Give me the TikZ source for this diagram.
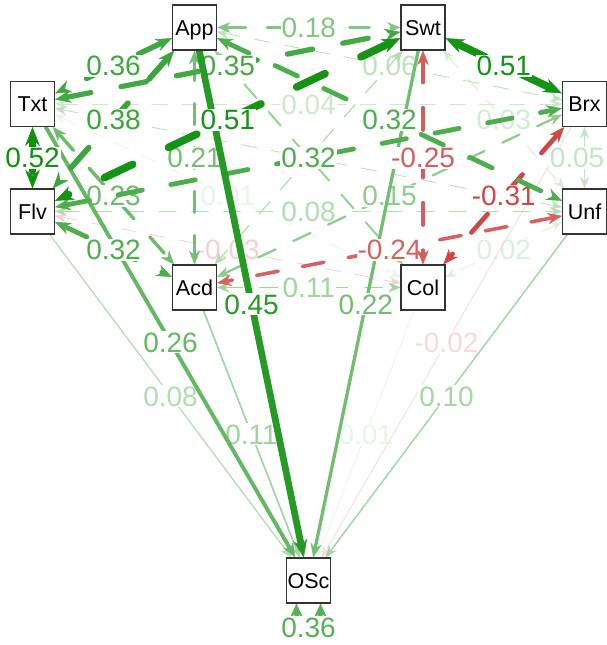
\documentclass[tikz,border=0pt]{standalone}
\usepackage{fontspec}
\setmainfont{Liberation Sans}
\usetikzlibrary{arrows.meta,calc}
\definecolor{gbase}{RGB}{15,145,15}
\definecolor{rbase}{RGB}{191,0,0}
\pgfdeclarelayer{edges}
\pgfsetlayers{edges,main}
\newcommand\setedge[2]{%
  \pgfmathsetmacro\ew{max(0.8,15*#1)}%
  \pgfmathtruncatemacro\ep{min(100,100*(#1/0.52)^0.6)}%
  \colorlet{ec}{#2!\ep!white}%
  \pgfmathsetmacro\al{10.5+16*#1}%
  \pgfmathsetmacro\aw{8.5+12*#1}%
  \pgfmathsetmacro\per{25+6*\ew}%
  \pgfmathsetmacro\don{max(1,0.55*\per-\ew)}%
  \pgfmathsetmacro\doff{0.45*\per+\ew}%
}
\newcommand\edgelabel[3]{%
  \if\relax\detokenize{#3}\relax\else
  \node[lbl,text=ec] at ($(#1)!0.5!(#2)$) {#3};\fi}
\newcommand\corr[5]{%
  \setedge{#3}{#4}%
  \draw[ec, line width=\ew pt, line cap=round, dash pattern=on \don pt off \doff pt,
    {Stealth[length=\al pt,width=\aw pt,line width=0.5pt]}-{Stealth[length=\al pt,width=\aw pt,line width=0.5pt]}] (#1) -- (#2);%
  \edgelabel{#1}{#2}{#5}}
\newcommand\regr[5]{%
  \setedge{#3}{#4}%
  \draw[ec, line width=\ew pt, line cap=round,
    -{Stealth[length=\al pt,width=\aw pt,line width=0.5pt]}] (#1) -- (#2);%
  \edgelabel{#1}{#2}{#5}}
\tikzset{
  box/.style={draw=black!80, fill=white, line width=1.1pt, minimum width=44pt,
    minimum height=45pt, inner sep=0pt, text height=15.4pt, text depth=0pt,
    font=\fontsize{21.5}{24}\selectfont},
  lbl/.style={fill=white, inner sep=1pt, text height=20pt, text depth=0pt,
    font=\fontsize{28}{30}\selectfont}
}
\begin{document}
\begin{tikzpicture}[x=1pt,y=-1pt]
\useasboundingbox (0,0) rectangle (606,645);
\node[box] (App) at (194.5,27.5) {App};
\node[box] (Swt) at (423,27.5) {Swt};
\node[box] (Txt) at (32.5,104) {Txt};
\node[box] (Brx) at (584.5,104) {Brx};
\node[box] (Flv) at (32.5,211.5) {Flv};
\node[box] (Unf) at (584.5,211.5) {Unf};
\node[box] (Acd) at (194.5,287.5) {Acd};
\node[box] (Col) at (423,287.5) {Col};
\node[box] (OSc) at (308.5,580.5) {OSc};
\coordinate (rl) at ([xshift=-12pt]OSc.south);
\coordinate (rr) at ([xshift=12pt]OSc.south);
\coordinate (rlab) at (308.5,627);
\coordinate (bulab) at (577,157.75);
\begin{pgfonlayer}{edges}
\corr{Txt}{Col}{0.01}{gbase}{0.01}
\regr{Col}{OSc}{0.01}{gbase}{0.01}
\corr{Unf}{Col}{0.02}{gbase}{0.02}
\regr{Brx}{OSc}{0.02}{rbase}{-0.02}
\corr{Swt}{Unf}{0.03}{gbase}{0.03}
\corr{Flv}{Col}{0.03}{rbase}{-0.03}
\corr{Txt}{Brx}{0.04}{gbase}{0.04}
\corr{Brx}{Unf}{0.05}{gbase}{}
\node[lbl,text=ec] (bul) at (bulab) {0.05};
\corr{App}{Brx}{0.06}{gbase}{0.06}
\corr{Txt}{Unf}{0.06}{gbase}{}
\corr{Swt}{Acd}{0.08}{gbase}{}
\corr{Flv}{Unf}{0.08}{gbase}{0.08}
\regr{Flv}{OSc}{0.08}{gbase}{0.08}
\regr{Unf}{OSc}{0.10}{gbase}{0.10}
\corr{Acd}{Col}{0.11}{gbase}{0.11}
\regr{Acd}{OSc}{0.11}{gbase}{0.11}
\corr{App}{Col}{0.13}{gbase}{}
\corr{Brx}{Acd}{0.15}{gbase}{0.15}
\corr{App}{Swt}{0.18}{gbase}{0.18}
\corr{App}{Acd}{0.21}{gbase}{0.21}
\regr{Swt}{OSc}{0.22}{gbase}{0.22}
\corr{Txt}{Acd}{0.23}{gbase}{0.23}
\corr{Unf}{Acd}{0.24}{rbase}{-0.24}
\corr{Swt}{Col}{0.25}{rbase}{-0.25}
\regr{Txt}{OSc}{0.26}{gbase}{0.26}
\corr{Brx}{Col}{0.31}{rbase}{-0.31}
\corr{App}{Unf}{0.32}{gbase}{0.32}
\corr{Flv}{Acd}{0.32}{gbase}{0.32}
\corr{Flv}{Brx}{0.32}{gbase}{0.32}
\corr{Txt}{Swt}{0.35}{gbase}{0.35}
\corr{App}{Txt}{0.36}{gbase}{0.36}
\corr{App}{Flv}{0.38}{gbase}{0.38}
\regr{App}{OSc}{0.45}{gbase}{0.45}
\corr{Swt}{Brx}{0.51}{gbase}{0.51}
\corr{Swt}{Flv}{0.51}{gbase}{0.51}
\corr{Txt}{Flv}{0.52}{gbase}{0.52}
\setedge{0.3}{gbase}
\draw[ec, line width=4.5pt, {Stealth[length=14pt,width=13pt,line width=0.5pt]}-{Stealth[length=14pt,width=13pt,line width=0.5pt]}]
  (rl) .. controls +(0,40) and +(0,40) .. (rr);
\node[lbl,text=ec] (res) at (rlab) {0.36};
\end{pgfonlayer}
\end{tikzpicture}
\end{document}
